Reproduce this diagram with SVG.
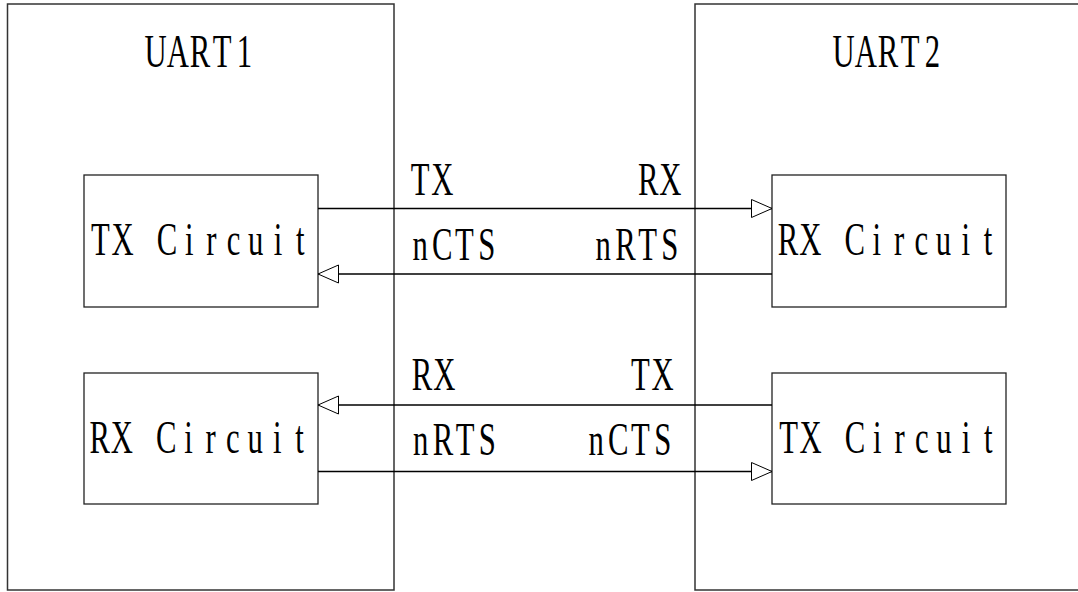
<svg xmlns="http://www.w3.org/2000/svg" width="1078" height="592" viewBox="0 0 1078 592">
<style>
.uart{fill:none;stroke:#333;stroke-width:1.5}
.box{fill:#fff;stroke:#222;stroke-width:1.3}
.wire{stroke:#000;stroke-width:1.3;fill:none;marker-end:url(#tri)}
text{font-family:"Liberation Serif","DejaVu Serif",serif;font-size:46.5px;fill:#000;text-anchor:middle}
</style>
<defs>
<marker id="tri" markerUnits="userSpaceOnUse" markerWidth="24" markerHeight="22" refX="21" refY="10" orient="auto" viewBox="0 0 24 22">
<path d="M0.5,1 L21,10 L0.5,19 Z" fill="#fff" stroke="#000" stroke-width="1"/>
</marker>
</defs>
<g id="uart1">
<rect class="uart" x="7.5" y="4" width="386.5" height="586"/>
<g transform="translate(144.5,67) scale(0.66,1)"><text x="16.82 50.45 84.09 117.73 151.36">UART1</text></g>
</g>
<g id="uart2">
<rect class="uart" x="695" y="4" width="420" height="586"/>
<g transform="translate(832.5,67) scale(0.66,1)"><text x="16.82 50.45 84.09 117.73 151.36">UART2</text></g>
</g>
<g id="tx1">
<rect class="box" x="84" y="175" width="234" height="132"/>
<g transform="translate(89.3,255) scale(0.66,1)"><text x="16.82 50.45 84.09 117.73 151.36 185 218.64 252.27 285.9 319.55">TX Circuit</text></g>
</g>
<g id="rx1">
<rect class="box" x="84" y="373" width="234" height="131"/>
<g transform="translate(88.6,453) scale(0.66,1)"><text x="16.82 50.45 84.09 117.73 151.36 185 218.64 252.27 285.9 319.55">RX Circuit</text></g>
</g>
<g id="rx2">
<rect class="box" x="772" y="175" width="234" height="132"/>
<g transform="translate(777,255) scale(0.66,1)"><text x="16.82 50.45 84.09 117.73 151.36 185 218.64 252.27 285.9 319.55">RX Circuit</text></g>
</g>
<g id="tx2">
<rect class="box" x="772" y="373" width="234" height="131"/>
<g transform="translate(777.4,453) scale(0.66,1)"><text x="16.82 50.45 84.09 117.73 151.36 185 218.64 252.27 285.9 319.55">TX Circuit</text></g>
</g>
<g id="connectors">
<line class="wire" x1="318" y1="208.5" x2="772" y2="208.5"/>
<line class="wire" x1="772" y1="274" x2="318" y2="274"/>
<line class="wire" x1="772" y1="405" x2="318" y2="405"/>
<line class="wire" x1="318" y1="471.5" x2="772" y2="471.5"/>
</g>
<g id="labels">
<g transform="translate(409,195) scale(0.66,1)"><text x="16.82 50.45">TX</text></g>
<g transform="translate(637.1,195) scale(0.66,1)"><text x="16.82 50.45">RX</text></g>
<g transform="translate(409,260) scale(0.66,1)"><text x="16.82 50.45 84.09 117.73">nCTS</text></g>
<g transform="translate(592.1,260) scale(0.66,1)"><text x="16.82 50.45 84.09 117.73">nRTS</text></g>
<g transform="translate(411,390) scale(0.66,1)"><text x="16.82 50.45">RX</text></g>
<g transform="translate(629.3,390) scale(0.66,1)"><text x="16.82 50.45">TX</text></g>
<g transform="translate(409.6,455) scale(0.66,1)"><text x="16.82 50.45 84.09 117.73">nRTS</text></g>
<g transform="translate(585,455) scale(0.66,1)"><text x="16.82 50.45 84.09 117.73">nCTS</text></g>
</g>
</svg>
